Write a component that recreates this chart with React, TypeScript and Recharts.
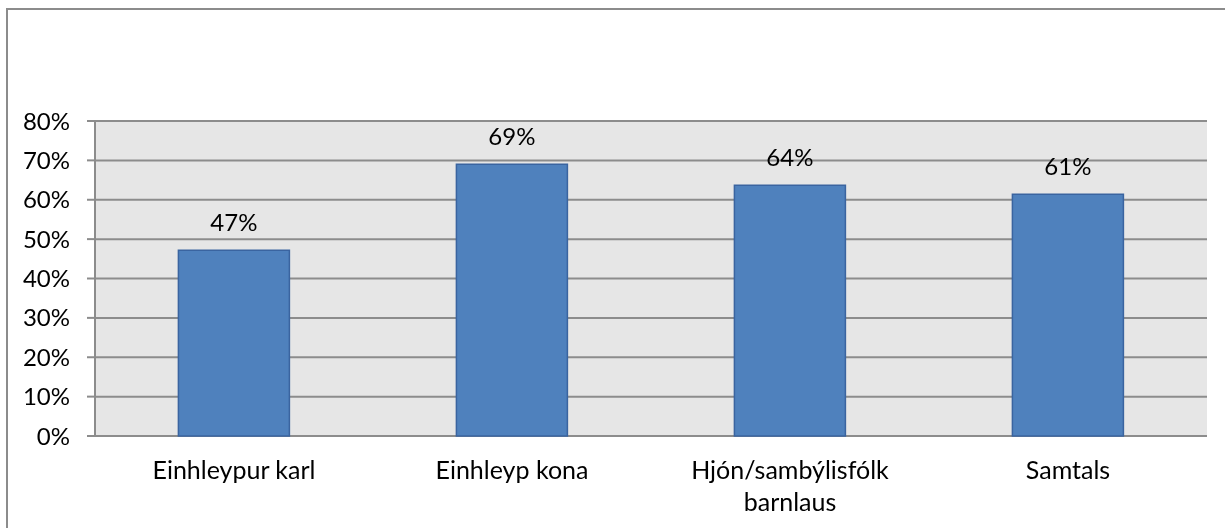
import { Bar, BarChart, CartesianGrid, LabelList, XAxis, YAxis } from "recharts"

const categories = ["Einhleypur karl", "Einhleyp kona", "Hjón/sambýlisfólk barnlaus", "Samtals"]
const shares = [47.2, 69.0, 63.7, 61.4]
const valueLabels = ["47%", "69%", "64%", "61%"]
const yTicks = [0, 10, 20, 30, 40, 50, 60, 70, 80]
const edgeTicks = [0, 1, 2, 3, 4]

const data = categories.map((name, i) => ({ name, idx: i + 0.5, value: shares[i], label: valueLabels[i] }))

const FONT = "Lato, 'Open Sans', sans-serif"
const FS = 24
const CAT_FS = 25
const AXIS = "#8c8c8c"

// greedy word wrap by character count, like Excel breaking long category names
function wrap(label: string, maxChars = 18) {
  const lines: string[] = []
  let cur = ""
  for (const w of label.split(" ")) {
    const next = cur ? `${cur} ${w}` : w
    if (cur && next.length > maxChars) {
      lines.push(cur)
      cur = w
    } else {
      cur = next
    }
  }
  if (cur) lines.push(cur)
  return lines
}

function CategoryTick(props: any) {
  const { x, y, payload } = props
  const lines = wrap(String(payload.value))
  return (
    <text x={x} y={y} textAnchor="middle" fontFamily={FONT} fontSize={CAT_FS} fill="#000">
      {lines.map((line, i) => (
        <tspan key={i} x={x} dy={i === 0 ? 17 : 32}>
          {line}
        </tspan>
      ))}
    </text>
  )
}

export default function App() {
  return (
    <div style={{ position: "relative", width: 1210, height: 518, marginTop: 2, fontFamily: FONT }}>
      {/* outer frame, only top and left edges fall inside the picture */}
      <div
        style={{
          position: "fixed",
          left: 6,
          top: 8,
          width: 1240,
          height: 540,
          border: `2px solid ${AXIS}`,
          pointerEvents: "none",
        }}
      />
      <BarChart
        width={1210}
        height={518}
        data={data}
        margin={{ top: 111, right: 11, left: 0, bottom: 0 }}
        barCategoryGap="30%"
      >
        <CartesianGrid
          xAxisId="edges"
          vertical={false}
          fill="#e6e6e6"
          stroke={AXIS}
          strokeWidth={2}
        />
        <XAxis
          xAxisId="edges"
          type="number"
          dataKey="idx"
          domain={[0, 4]}
          ticks={edgeTicks}
          tickFormatter={() => ""}
          height={0}
          tickSize={8}
          axisLine={{ stroke: AXIS, strokeWidth: 2 }}
          tickLine={{ stroke: AXIS, strokeWidth: 2 }}
        />
        <XAxis
          xAxisId="cat"
          dataKey="name"
          height={92}
          axisLine={false}
          tickLine={false}
          tickSize={0}
          tickMargin={26}
          interval={0}
          tick={(p: any) => <CategoryTick {...p} />}
        />
        <YAxis
          domain={[0, 80]}
          ticks={yTicks}
          width={87}
          interval={0}
          tickFormatter={(v: number) => `${v}%`}
          tickSize={8}
          tickMargin={17}
          axisLine={{ stroke: AXIS, strokeWidth: 2 }}
          tickLine={{ stroke: AXIS, strokeWidth: 2 }}
          tick={{ fill: "#000", fontSize: FS, fontFamily: FONT }}
        />
        <Bar
          xAxisId="cat"
          dataKey="value"
          fill="#4f81bd"
          stroke="#3a64a0"
          strokeWidth={1.5}
          isAnimationActive={false}
        >
          <LabelList dataKey="label" position="top" offset={19} fill="#000" fontSize={FS} fontFamily={FONT} />
        </Bar>
      </BarChart>
    </div>
  )
}
